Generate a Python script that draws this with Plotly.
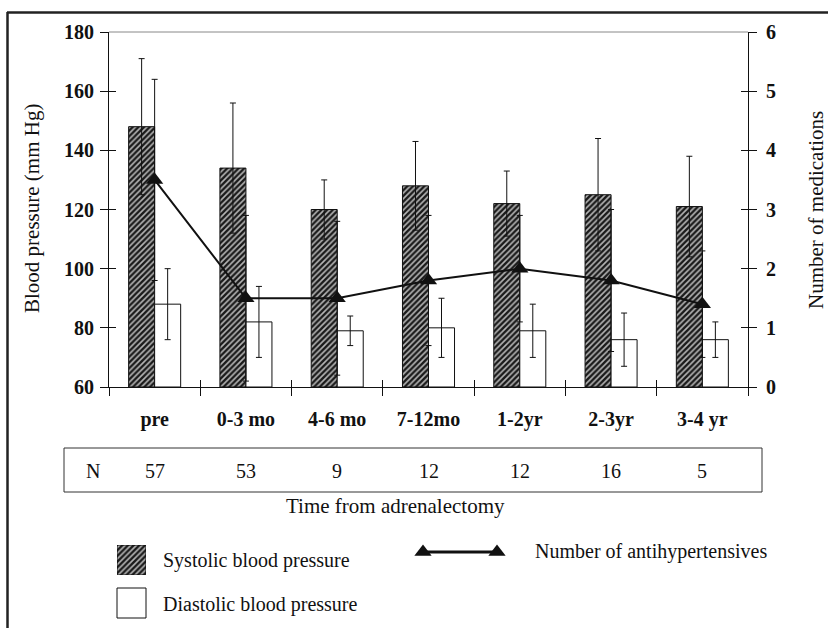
import plotly.graph_objects as go

W, H = 828, 628

categories = ["pre", "0-3 mo", "4-6 mo", "7-12mo", "1-2yr", "2-3yr", "3-4 yr"]
systolic = [148, 134, 120, 128, 122, 125, 121]
systolic_sd = [23, 22, 10, 15, 11, 19, 17]
diastolic = [88, 82, 79, 80, 79, 76, 76]
diastolic_sd = [12, 12, 5, 10, 9, 9, 6]
medications = [3.5, 1.5, 1.5, 1.8, 2.0, 1.8, 1.4]
medications_sd = [1.7, 1.4, 1.3, 1.1, 0.9, 1.2, 0.9]
n_patients = [57, 53, 9, 12, 12, 16, 5]

bp_ticks = [60, 80, 100, 120, 140, 160, 180]
med_ticks = [0, 1, 2, 3, 4, 5, 6]

SERIF = "Liberation Serif, Times New Roman, serif"


def px(x):
    return x / W


def py(y):
    return 1 - y / H


hatch = dict(shape="/", size=4, solidity=0.6, fgcolor="#1a1a1a", bgcolor="#b5b5b5", fillmode="replace")

fig = go.Figure()

fig.add_trace(go.Bar(
    x=categories, y=[s - 60 for s in systolic], base=60, name="Systolic blood pressure",
    marker=dict(color="#777", pattern=hatch, line=dict(color="#111", width=1)),
    error_y=dict(type="data", array=systolic_sd, color="#111", thickness=1, width=3),
    showlegend=False, hoverinfo="skip",
))
fig.add_trace(go.Bar(
    x=categories, y=[d - 60 for d in diastolic], base=60, name="Diastolic blood pressure",
    marker=dict(color="white", line=dict(color="#111", width=1)),
    error_y=dict(type="data", array=diastolic_sd, color="#111", thickness=1, width=3),
    showlegend=False, hoverinfo="skip",
))
fig.add_trace(go.Scatter(
    x=categories, y=medications, yaxis="y2", mode="lines+markers",
    line=dict(color="#111", width=2),
    marker=dict(symbol="triangle-up", size=15, color="#111"),
    error_y=dict(type="data", array=medications_sd, color="#111", thickness=1, width=3),
    showlegend=False, hoverinfo="skip", cliponaxis=False,
))

# empty traces to register tick-overlay axes
fig.add_trace(go.Scatter(x=[], y=[], xaxis="x2", yaxis="y", showlegend=False, hoverinfo="skip"))
fig.add_trace(go.Scatter(x=[], y=[], xaxis="x", yaxis="y3", showlegend=False, hoverinfo="skip"))
fig.add_trace(go.Scatter(x=[], y=[], xaxis="x", yaxis="y4", showlegend=False, hoverinfo="skip"))

# legend swatch (systolic)
fig.add_trace(go.Bar(
    x=[0], y=[1], width=[1], xaxis="x3", yaxis="y5",
    marker=dict(color="#777", pattern=hatch, line=dict(color="#111", width=1)),
    showlegend=False, hoverinfo="skip",
))
# legend line sample
fig.add_trace(go.Scatter(
    x=[0, 1], y=[0, 0], xaxis="x4", yaxis="y6", mode="lines+markers",
    line=dict(color="#111", width=3),
    marker=dict(symbol="triangle-up", size=15, color="#111"),
    showlegend=False, hoverinfo="skip", cliponaxis=False,
))

x_dom = [px(109), px(748)]
y_dom = [py(387), py(32)]
tickfont = dict(family=SERIF, size=20, color="#111", weight="bold")

fig.update_layout(
    width=W, height=H,
    margin=dict(l=0, r=0, t=0, b=0),
    paper_bgcolor="white", plot_bgcolor="rgba(0,0,0,0)",
    barmode="group", bargap=0.43, bargroupgap=0,
    font=dict(family=SERIF, color="#111"),
    xaxis=dict(
        domain=x_dom, anchor="y", type="category", categoryorder="array", categoryarray=categories,
        range=[-0.5, 6.5], tickson="boundaries", ticks="outside", ticklen=8, tickcolor="#111",
        showline=True, linecolor="#111", linewidth=1, showgrid=False, zeroline=False,
        tickfont=tickfont, ticklabelstandoff=14, automargin=False, fixedrange=True,
    ),
    xaxis2=dict(
        domain=x_dom, anchor="y", overlaying="x", side="bottom", range=[-0.5, 6.5],
        tickvals=[i - 0.5 for i in range(8)], ticks="inside", ticklen=7, tickcolor="#111",
        showticklabels=False, showline=False, showgrid=False, zeroline=False, automargin=False,
        fixedrange=True,
    ),
    yaxis=dict(
        domain=y_dom, anchor="x", range=[60, 180], tickvals=bp_ticks, ticks="outside", ticklen=8,
        tickcolor="#111", showline=True, linecolor="#111", linewidth=1, showgrid=False,
        zeroline=False, tickfont=tickfont, ticklabelstandoff=2, automargin=False, fixedrange=True,
    ),
    yaxis2=dict(
        domain=y_dom, anchor="x", overlaying="y", side="right", range=[0, 6], tickvals=med_ticks,
        ticks="outside", ticklen=8, tickcolor="#111", showline=True, linecolor="#111", linewidth=1,
        showgrid=False, zeroline=False, tickfont=tickfont, ticklabelstandoff=5, automargin=False,
        fixedrange=True,
    ),
    yaxis3=dict(
        domain=y_dom, anchor="x", overlaying="y", side="left", range=[60, 180], tickvals=bp_ticks,
        ticks="inside", ticklen=7, tickcolor="#111", showticklabels=False, showline=False,
        showgrid=False, zeroline=False, automargin=False, fixedrange=True,
    ),
    yaxis4=dict(
        domain=y_dom, anchor="x", overlaying="y", side="right", range=[0, 6], tickvals=med_ticks,
        ticks="inside", ticklen=7, tickcolor="#111", showticklabels=False, showline=False,
        showgrid=False, zeroline=False, automargin=False, fixedrange=True,
    ),
    xaxis3=dict(domain=[px(117), px(146)], anchor="y5", range=[-0.5, 0.5], visible=False, fixedrange=True),
    yaxis5=dict(domain=[py(575), py(545)], anchor="x3", range=[0, 1], visible=False, fixedrange=True),
    xaxis4=dict(domain=[px(423), px(497)], anchor="y6", range=[0, 1], visible=False, fixedrange=True),
    yaxis6=dict(domain=[py(562), py(542)], anchor="x4", range=[-1, 1], visible=False, fixedrange=True),
)

shapes = [
    # outer frame (top and left edges)
    dict(type="line", xref="paper", yref="paper", x0=px(7), x1=px(830), y0=py(12.5), y1=py(12.5),
         line=dict(color="#222", width=2.5)),
    dict(type="line", xref="paper", yref="paper", x0=px(7.5), x1=px(7.5), y0=py(12), y1=py(630),
         line=dict(color="#222", width=2.5)),
    # top border of plot area
    dict(type="line", xref="paper", yref="paper", x0=px(109), x1=px(748), y0=py(32), y1=py(32),
         line=dict(color="#888", width=1)),
    # N box
    dict(type="rect", xref="paper", yref="paper", x0=px(64), x1=px(762), y0=py(492), y1=py(448),
         line=dict(color="#333", width=1), fillcolor="rgba(0,0,0,0)"),
    # diastolic legend swatch
    dict(type="rect", xref="paper", yref="paper", x0=px(117), x1=px(146), y0=py(618), y1=py(588),
         line=dict(color="#111", width=1), fillcolor="white"),
]
fig.update_layout(shapes=shapes)

ann = []
txt = dict(family=SERIF, size=20, color="#111")
big = dict(family=SERIF, size=21, color="#111")


def note(text, x, y, xref="paper", xanchor="center", textangle=0, font=txt):
    ann.append(dict(text=text, xref=xref, yref="paper", x=x, y=y, xanchor=xanchor, yanchor="middle",
                    textangle=textangle, showarrow=False, font=font))


note("N", px(93), py(471))
for c, n in zip(categories, n_patients):
    note(str(n), c, py(471), xref="x")
note("Time from adrenalectomy", px(395), py(506), font=big)
note("Blood pressure (mm Hg)", px(32), py(209), textangle=-90, font=big)
note("Number of medications", px(816), py(210), textangle=-90, font=big)
note("Systolic blood pressure", px(161), py(560), xanchor="left")
note("Diastolic blood pressure", px(161), py(604), xanchor="left")
note("Number of antihypertensives", px(533), py(551), xanchor="left")
fig.update_layout(annotations=ann)

fig.write_html(
    "out.html",
    config={"displayModeBar": False},
    post_script="document.body.style.margin='0';document.body.style.padding='0';",
)
